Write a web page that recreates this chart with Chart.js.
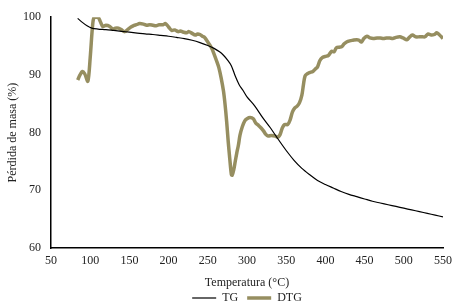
<!DOCTYPE html>
<html>
<head>
<meta charset="utf-8">
<script src="https://cdn.jsdelivr.net/npm/chart.js@4.4.0/dist/chart.umd.min.js"></script>
<style>
  html, body { margin: 0; padding: 0; background: #fff; }
  #wrap { width: 458px; height: 308px; }
</style>
</head>
<body>
<div id="wrap"><canvas id="tgChart" width="458" height="308"></canvas></div>
<script>
// TG curve (temperature °C, mass %)
const tgTemp = [84, 90, 96, 102, 110, 120, 130, 140, 150, 160, 170, 180, 190, 200, 210, 220, 230, 240, 250, 258,
    265, 270, 275, 280, 285, 290, 295, 300, 310, 320, 330, 340, 350, 360, 370, 380, 390, 400, 410, 420,
    430, 440, 450, 460, 470, 480, 490, 500, 510, 520, 530, 540, 550];
const tgMass = [99.8, 99.1, 98.5, 98.1, 97.95, 97.85, 97.7, 97.55, 97.4, 97.25, 97.1, 97.0, 96.85, 96.7, 96.5, 96.3, 96.0, 95.6, 95.1, 94.6,
    94.0, 93.4, 92.6, 91.6, 89.8, 88.3, 87.3, 86.2, 84.6, 82.6, 80.8, 78.8, 76.9, 75.2, 73.8, 72.7, 71.7, 71.0, 70.4, 69.8,
    69.3, 68.9, 68.5, 68.1, 67.8, 67.5, 67.2, 66.9, 66.6, 66.3, 66.0, 65.7, 65.4];

// DTG curve (temperature °C, plotted value)
const dtgTemp = [84, 87, 90, 93, 97, 100, 103, 105, 110, 113, 116, 120, 125, 129, 132, 136, 140, 144, 148, 152,
    156, 159, 163, 168, 172, 176, 180, 184, 188, 193, 196, 200, 204, 208, 212, 215, 219, 223, 226, 230,
    234, 237, 240, 243, 246, 249, 252, 255, 258, 261, 264, 267, 270, 272, 274, 276, 278, 280, 281, 283,
    285, 287, 289, 291, 294, 297, 300, 304, 308, 311, 315, 318, 321, 324, 327, 331, 336, 339, 342, 345,
    348, 352, 355, 358, 361, 364, 367, 370, 372, 374, 377, 380, 384, 387, 390, 393, 396, 400, 404, 408,
    411, 414, 418, 421, 424, 427, 431, 435, 440, 443, 446, 449, 453, 457, 461, 466, 470, 474, 478, 482,
    486, 490, 495, 499, 504, 507, 511, 515, 520, 524, 527, 531, 535, 539, 542, 545, 548, 550];
const dtgVal = [89.1, 90.0, 90.6, 90.2, 88.9, 93.0, 98.5, 100, 100, 99.2, 98.4, 98.6, 98.4, 97.9, 98.1, 98.1, 97.8, 97.5, 97.9, 98.3,
    98.6, 98.7, 98.9, 98.8, 98.6, 98.7, 98.6, 98.5, 98.7, 98.7, 98.9, 98.3, 97.7, 97.8, 97.5, 97.6, 97.4, 97.3, 97.5, 97.2,
    96.9, 97.1, 97.0, 96.7, 96.5, 95.9, 95.3, 94.6, 93.6, 92.5, 91.3, 89.5, 87.2, 84.9, 82.0, 78.5, 75.5, 72.8, 72.6, 73.5,
    75.0, 76.5, 77.8, 79.5, 81.0, 82.0, 82.4, 82.6, 82.4, 81.7, 81.2, 80.8, 80.3, 79.7, 79.4, 79.5, 79.4, 79.2, 79.6, 80.8,
    81.4, 81.4, 82.2, 83.6, 84.3, 84.6, 85.2, 86.5, 88.3, 89.8, 90.2, 90.4, 90.6, 91.0, 91.4, 92.5, 93.0, 93.2, 93.4, 94.1,
    94.0, 94.7, 94.8, 94.9, 95.4, 95.7, 95.9, 96.0, 96.1, 96.0, 95.7, 96.3, 96.7, 96.4, 96.3, 96.4, 96.4, 96.3, 96.4, 96.4,
    96.3, 96.5, 96.6, 96.4, 96.1, 96.5, 96.9, 96.6, 96.6, 96.6, 96.6, 97.1, 96.9, 97.0, 97.3, 97.0, 96.6, 96.3];

const X_MIN = 50, X_MAX = 550, X_STEP = 50;
const Y_MIN = 60, Y_MAX = 100, Y_STEP = 10;

const toPoints = (xs, ys) => xs.map((x, i) => ({ x: x, y: ys[i] }));

const serif = "'Liberation Serif', 'DejaVu Serif', serif";
Chart.defaults.font.family = serif;
Chart.defaults.font.size = 12;
Chart.defaults.color = '#222';

new Chart(document.getElementById('tgChart').getContext('2d'), {
    type: 'line',
    data: {
        datasets: [
            {
                label: 'TG',
                data: toPoints(tgTemp, tgMass),
                borderColor: '#000',
                backgroundColor: '#000',
                borderWidth: 1.2,
                pointRadius: 0,
                tension: 0.3
            },
            {
                label: 'DTG',
                data: toPoints(dtgTemp, dtgVal),
                borderColor: '#968e60',
                backgroundColor: '#968e60',
                borderWidth: 3.5,
                pointRadius: 0,
                tension: 0.3
            }
        ]
    },
    options: {
        responsive: false,
        animation: false,
        layout: { padding: { left: 0, right: 15, top: 16, bottom: -6 } },
        scales: {
            x: {
                type: 'linear',
                min: X_MIN,
                max: X_MAX,
                ticks: { stepSize: X_STEP, padding: 6, maxRotation: 0 },
                grid: { display: false, drawTicks: false },
                border: { display: true, color: '#000', width: 1.5 },
                title: { display: true, text: 'Temperatura (°C)', padding: { top: 5, bottom: -7 } },
                afterFit: (scale) => { scale.height = 35; }
            },
            y: {
                min: Y_MIN,
                max: Y_MAX,
                ticks: { stepSize: Y_STEP, padding: 10 },
                grid: { display: false, drawTicks: false },
                border: { display: true, color: '#000', width: 1.5 },
                title: { display: true, text: 'Pérdida de masa (%)', padding: { top: 6, bottom: 0 } },
                afterFit: (scale) => { scale.width = 51; }
            }
        },
        plugins: {
            legend: {
                position: 'bottom',
                fullSize: false,
                labels: {
                    usePointStyle: true,
                    pointStyle: 'line',
                    pointStyleWidth: 24,
                    boxHeight: 10,
                    padding: 9,
                    color: '#222'
                }
            },
            tooltip: { enabled: false }
        }
    }
});
</script>
</body>
</html>
